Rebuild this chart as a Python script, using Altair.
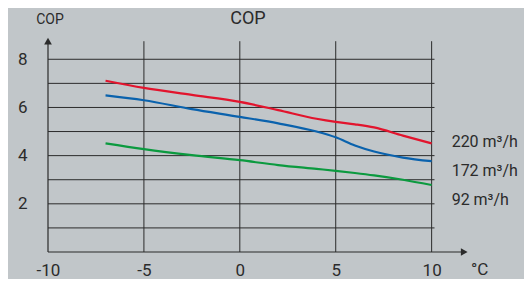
import altair as alt
import pandas as pd

# ---- data ----
temps = [-7, -5, -2.5, 0, 2, 4, 5, 6, 7, 8.5, 10]
cop_220 = [7.11, 6.81, 6.52, 6.23, 5.89, 5.53, 5.40, 5.30, 5.17, 4.83, 4.51]
cop_172 = [6.50, 6.30, 5.93, 5.61, 5.34, 5.00, 4.76, 4.42, 4.17, 3.92, 3.77]
cop_92 = [4.51, 4.27, 4.02, 3.81, 3.61, 3.45, 3.37, 3.28, 3.18, 3.00, 2.78]
series_names = ["220 m³/h", "172 m³/h", "92 m³/h"]
series_colors = ["#e2142d", "#0a62ad", "#0b9a3f"]
label_levels = [4.55, 3.37, 2.15]

x_ticks = [-10, -5, 0, 5, 10]
y_ticks = [2, 4, 6, 8]
v_grid = [-5, 0, 5, 10]
h_grid = [1, 2, 3, 4, 5, 6, 7, 8]

X_MIN, X_MAX = -10, 12
Y_MIN, Y_MAX = 0, 8.8
W, H = 422, 212
BG = "#c1c6c9"
INK = "#2b2b2b"
FONT = "Roboto"

rows = []
for name, vals in zip(series_names, [cop_220, cop_172, cop_92]):
    for t, v in zip(temps, vals):
        rows.append({"series": name, "t": t, "cop": v})
df = pd.DataFrame(rows)

xs = alt.Scale(domain=[X_MIN, X_MAX], nice=False, zero=False)
ys = alt.Scale(domain=[Y_MIN, Y_MAX], nice=False, zero=False)
color = alt.Color("series:N", scale=alt.Scale(domain=series_names, range=series_colors), legend=None)

# grid: vertical lines
vdf = pd.DataFrame({"x": v_grid, "y0": [0] * len(v_grid), "y1": [8.75] * len(v_grid)})
vrules = alt.Chart(vdf).mark_rule(color=INK, strokeWidth=1).encode(
    x=alt.X("x:Q", scale=xs,
            axis=alt.Axis(values=x_ticks, domain=False, ticks=False, grid=False, title=None,
                          labelFontSize=17, labelColor=INK, labelFont=FONT, labelPadding=10,
                          labelFlush=False, labelExpr="toString(datum.value)")),
    y=alt.Y("y0:Q", scale=ys,
            axis=alt.Axis(values=y_ticks, domain=False, ticks=False, grid=False, title=None,
                          labelFontSize=17, labelColor=INK, labelFont=FONT, labelPadding=21)),
    y2="y1:Q",
)

# grid: horizontal lines
hdf = pd.DataFrame({"y": h_grid, "x0": [X_MIN] * len(h_grid), "x1": [10.15] * len(h_grid)})
hrules = alt.Chart(hdf).mark_rule(color=INK, strokeWidth=1).encode(
    y=alt.Y("y:Q", scale=ys), x=alt.X("x0:Q", scale=xs), x2="x1:Q"
)

# axes with arrows
ax_df = pd.DataFrame({"x": [X_MIN], "y": [0], "xe": [11.7], "ye": [8.75]})
xaxis = alt.Chart(ax_df).mark_rule(color=INK, strokeWidth=1.2).encode(
    x=alt.X("x:Q", scale=xs), x2="xe:Q", y=alt.Y("y:Q", scale=ys)
)
yaxis = alt.Chart(ax_df).mark_rule(color=INK, strokeWidth=1.2).encode(
    x=alt.X("x:Q", scale=xs), y=alt.Y("y:Q", scale=ys), y2="ye:Q"
)
arrow_x = alt.Chart(ax_df).mark_point(shape="triangle-right", filled=True, color=INK, size=60, opacity=1).encode(
    x=alt.X("xe:Q", scale=xs), y=alt.Y("y:Q", scale=ys)
)
arrow_y = alt.Chart(ax_df).mark_point(shape="triangle-up", filled=True, color=INK, size=60, opacity=1).encode(
    x=alt.X("x:Q", scale=xs), y=alt.Y("ye:Q", scale=ys)
)

lines = alt.Chart(df).mark_line(strokeWidth=2.2, interpolate="monotone").encode(
    x=alt.X("t:Q", scale=xs), y=alt.Y("cop:Q", scale=ys), color=color, detail="series:N"
)

ldf = pd.DataFrame({"series": series_names, "x": [10] * 3, "y": label_levels})
labels = alt.Chart(ldf).mark_text(align="left", baseline="middle", dx=20, fontSize=16,
                                  font=FONT, color=INK).encode(
    x=alt.X("x:Q", scale=xs), y=alt.Y("y:Q", scale=ys), text="series:N"
)

unit_df = pd.DataFrame({"x": [12.5], "t": ["°C"]})
unit = alt.Chart(unit_df).mark_text(align="center", baseline="top", fontSize=17, font=FONT,
                                    color=INK, dy=10).encode(
    x=alt.X("x:Q", scale=xs), y=alt.value(H), text="t:N"
)

ytitle_df = pd.DataFrame({"t": ["COP"]})
ytitle = alt.Chart(ytitle_df).mark_text(align="center", baseline="middle", fontSize=14, font=FONT,
                                        color=INK).encode(
    x=alt.value(2), y=alt.value(-20), text="t:N"
)
title = alt.Chart(ytitle_df).mark_text(align="center", baseline="top", fontSize=18, font=FONT,
                                       color=INK).encode(
    x=alt.value(200), y=alt.value(-30), text="t:N"
)

chart = alt.layer(vrules, hrules, xaxis, yaxis, arrow_x, arrow_y, lines, labels, unit, ytitle, title).properties(
    width=W, height=H,
    autosize=alt.AutoSizeParams(type="none"),
    padding={"left": 40, "top": 32, "right": 54, "bottom": 27},
    background=BG,
).configure_view(stroke=None)

chart.save("out.html", embed_options={"renderer": "svg", "actions": False})
